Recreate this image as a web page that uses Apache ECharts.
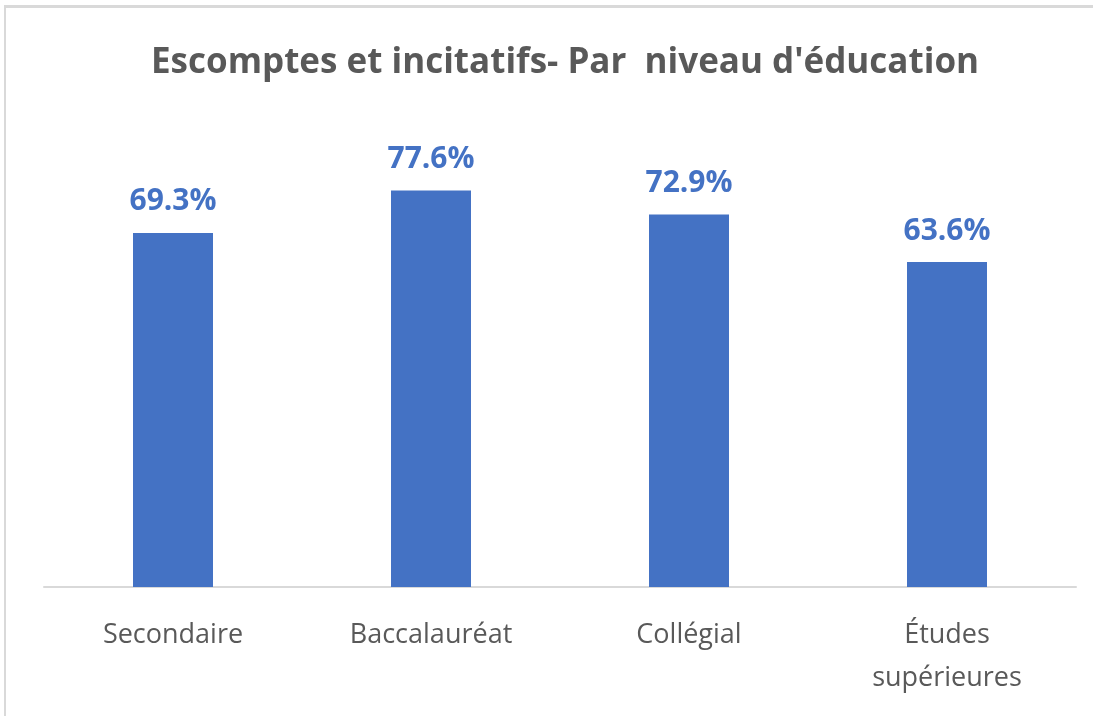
<!DOCTYPE html>
<html><head><meta charset="utf-8">
<script src="https://cdn.jsdelivr.net/npm/echarts@6/dist/echarts.min.js"></script>
<style>
html,body{margin:0;padding:0;background:#fff;}
#frame{position:absolute;left:4px;top:5px;width:1100px;height:720px;border-top:3px solid #d9d9d9;border-left:2px solid #d9d9d9;box-sizing:border-box;}
#c{position:absolute;left:0;top:0;width:1093px;height:716px;}
</style></head>
<body>
<div id="frame"></div>
<div id="c"></div>
<script>
const categories = ['Secondaire', 'Baccalauréat', 'Collégial', 'Études\nsupérieures'];
const values = [69.3, 77.6, 72.9, 63.6];
const titleText = "Escomptes et incitatifs- Par  niveau d'éducation";

const chart = echarts.init(document.getElementById('c'));
chart.setOption({
  animation: false,
  title: {
    text: titleText, left: 146, top: 41,
    textStyle: {fontFamily: 'Open Sans', fontWeight: 'bold', fontSize: 35, color: '#595959'}
  },
  grid: {left: 44, right: 17, top: 76, bottom: 129},
  xAxis: {
    type: 'category', data: categories,
    axisLine: {lineStyle: {color: '#d9d9d9', width: 2}},
    axisTick: {show: false},
    axisLabel: {fontFamily: 'Open Sans', fontSize: 27, color: '#595959', margin: 27, lineHeight: 43}
  },
  yAxis: {type: 'value', min: 0, max: 100, show: false, splitLine: {show: false}},
  series: [{
    type: 'bar', data: values, barWidth: 80,
    itemStyle: {color: '#4472C4'},
    label: {
      show: true, position: 'top', distance: 16,
      formatter: p => p.value.toFixed(1) + '%',
      fontFamily: 'Open Sans', fontWeight: 'bold', fontSize: 30, color: '#4472C4'
    }
  }]
});
</script>
</body></html>
